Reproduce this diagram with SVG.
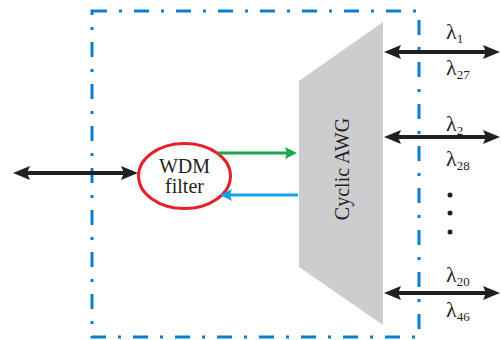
<svg xmlns="http://www.w3.org/2000/svg" width="501" height="340" viewBox="0 0 501 340">
<style>
  .frame{fill:none;stroke:#0b7dcb;stroke-width:3;stroke-dasharray:15 12 3 12}
  .blk{stroke:#231f20;stroke-width:4;fill:none}
  .grn{stroke:#1aa64b;stroke-width:3;fill:none}
  .blu{stroke:#12a3e6;stroke-width:3;fill:none}
  .t{font-family:"Liberation Serif","Times New Roman",serif;fill:#231f20}
  .lam{font-family:"Liberation Serif","Times New Roman",serif;font-size:22px;fill:#231f20}
  .sub{font-size:13px}
</style>
<defs>
  <marker id="ahK" viewBox="0 0 17 14" refX="6" refY="7" markerWidth="17" markerHeight="14" markerUnits="userSpaceOnUse" orient="auto-start-reverse">
    <path d="M0,0 L17,7 L0,14 L3,7 z" fill="#231f20"/>
  </marker>
  <marker id="ahG" viewBox="0 0 12 12" refX="4" refY="6" markerWidth="12" markerHeight="12" markerUnits="userSpaceOnUse" orient="auto">
    <path d="M0,0 L12,6 L0,12 L2,6 z" fill="#1aa64b"/>
  </marker>
  <marker id="ahB" viewBox="0 0 12 12" refX="4" refY="6" markerWidth="12" markerHeight="12" markerUnits="userSpaceOnUse" orient="auto">
    <path d="M0,0 L12,6 L0,12 L2,6 z" fill="#12a3e6"/>
  </marker>
</defs>
<rect width="501" height="340" fill="#ffffff"/>
<g id="frame">
  <rect class="frame" x="92" y="11" width="327" height="326"/>
</g>
<g id="awg">
  <polygon points="299,81 383,22 383,325 299,267" fill="#cdcdcf"/>
  <text class="t" font-size="20" text-anchor="middle" transform="translate(349,169) rotate(-90)">Cyclic AWG</text>
</g>
<g id="wdm">
  <ellipse cx="184.5" cy="176" rx="46" ry="32.5" fill="#ffffff" stroke="#e3222a" stroke-width="3"/>
  <text class="t" font-size="20" x="184.5" y="173" text-anchor="middle">WDM</text>
  <text class="t" font-size="20" x="184.5" y="193" text-anchor="middle">filter</text>
</g>
<g id="connectors">
  <line class="blk" x1="24" y1="173" x2="127" y2="173" marker-start="url(#ahK)" marker-end="url(#ahK)"/>
  <line class="grn" x1="218" y1="153" x2="289" y2="153" marker-end="url(#ahG)"/>
  <line class="blu" x1="298" y1="195" x2="228" y2="195" marker-end="url(#ahB)"/>
  <line class="blk" x1="395" y1="52" x2="489" y2="52" marker-start="url(#ahK)" marker-end="url(#ahK)"/>
  <line class="blk" x1="395" y1="137" x2="489" y2="137" marker-start="url(#ahK)" marker-end="url(#ahK)"/>
  <line class="blk" x1="395" y1="293" x2="489" y2="293" marker-start="url(#ahK)" marker-end="url(#ahK)"/>
</g>
<g id="labels">
  <text class="lam" x="446" y="39">λ<tspan class="sub" dy="4">1</tspan></text>
  <text class="lam" x="446" y="75">λ<tspan class="sub" dy="4">27</tspan></text>
  <text class="lam" x="446" y="131">λ<tspan class="sub" dy="4">2</tspan></text>
  <text class="lam" x="446" y="166">λ<tspan class="sub" dy="4">28</tspan></text>
  <text class="lam" x="446" y="282">λ<tspan class="sub" dy="4">20</tspan></text>
  <text class="lam" x="446" y="317">λ<tspan class="sub" dy="4">46</tspan></text>
  <circle cx="450" cy="195" r="2.5" fill="#231f20"/>
  <circle cx="450" cy="213" r="2.5" fill="#231f20"/>
  <circle cx="450" cy="232" r="2.5" fill="#231f20"/>
</g>
</svg>
